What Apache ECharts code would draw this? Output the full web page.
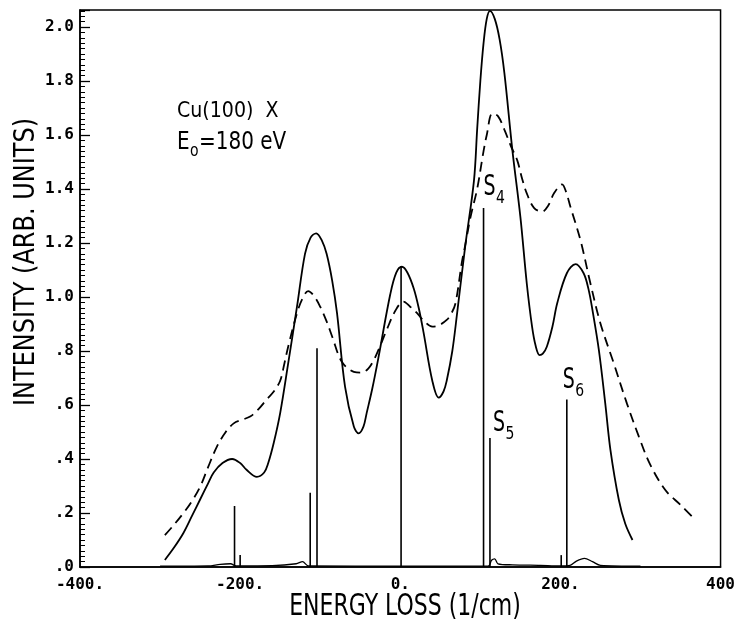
<!DOCTYPE html>
<html><head><meta charset="utf-8">
<script src="https://cdn.jsdelivr.net/npm/echarts@6/dist/echarts.min.js"></script>
<style>html,body{margin:0;padding:0;background:#fff}#c{width:738px;height:623px}</style>
</head><body><div id="c"></div>
<script>
// Solid curve (calculated spectrum)
const solidE = [-294,-283,-271,-260,-250,-240,-233,-222,-210,-200,-192,-179,-170,-165,-158,-150,-140,-129,-119,-112,-105,-98,-92,-85,-79,-69,-58,-52,-46,-42,-35,-27,-12.5,-5,2,9,17,23,29,40,48,54,58,65,71,81,92,96,100,104,108,112,118,124,130,140,150,158,164.6,169,174,178,183,190,196,208,219,229,235,240,248,256,262.5,273,281,290];
const solidY = [0.026,0.07,0.125,0.19,0.25,0.31,0.35,0.385,0.40,0.385,0.36,0.334,0.35,0.384,0.46,0.57,0.754,0.964,1.16,1.22,1.236,1.21,1.16,1.06,0.94,0.668,0.52,0.495,0.52,0.57,0.66,0.78,1.01,1.09,1.112,1.09,1.03,0.96,0.87,0.69,0.627,0.65,0.69,0.80,0.94,1.186,1.43,1.62,1.80,1.94,2.03,2.06,2.03,1.955,1.83,1.544,1.297,1.05,0.89,0.82,0.785,0.79,0.816,0.89,0.977,1.088,1.122,1.088,1.03,0.952,0.804,0.606,0.433,0.248,0.16,0.10];
// Dashed curve (measured spectrum)
const dashE = [-294,-283,-271,-260,-250,-240,-229,-218,-208,-198,-187.5,-177,-167,-158,-150,-145,-140,-129,-122,-115,-108,-100,-92,-85,-73,-58,-48,-40,-33,-25,-17,-6,4,12,21,30,40,48,58,64,69,77,81,88,96,104,108,115,122,130,138,146,152,158,167,177,185,192,202,207,212.5,225,237.5,250,266.7,283,298,312,331,350,365];
const dashY = [0.118,0.155,0.199,0.245,0.297,0.37,0.446,0.50,0.532,0.545,0.557,0.585,0.62,0.65,0.69,0.75,0.816,0.94,0.995,1.022,1.005,0.964,0.91,0.853,0.76,0.723,0.72,0.735,0.767,0.82,0.878,0.95,0.983,0.965,0.94,0.91,0.89,0.895,0.915,0.94,0.977,1.13,1.19,1.30,1.40,1.54,1.60,1.68,1.67,1.62,1.56,1.507,1.44,1.384,1.33,1.316,1.34,1.384,1.417,1.39,1.334,1.211,1.05,0.902,0.754,0.606,0.483,0.38,0.285,0.23,0.185];
// Small baseline contribution
const baseE = [-300,-240,-225,-212,-205,-160,-130,-122,-115,0,110,114,118,122,140,175,200,212,220,230,240,250,300];
const baseY = [0.003,0.004,0.01,0.012,0.004,0.005,0.012,0.02,0.004,0.003,0.004,0.025,0.03,0.012,0.008,0.006,0.004,0.006,0.022,0.032,0.02,0.006,0.003];
// Stick spectrum
const stickE = [-207,-200,-112.5,-104,1,104,112,201,208];
const stickY = [0.226,0.044,0.275,0.81,1.115,1.33,0.478,0.044,0.62];
const stickNames = ['','','','','','4','5','','6'];
// Axis ticks
const xTicks = [-400,-200,0,200,400];
const yTicks = [0,0.2,0.4,0.6,0.8,1.0,1.2,1.4,1.6,1.8,2.0];

const pairs = (xs, ys) => xs.map((x, i) => [x, ys[i]]);
const chart = echarts.init(document.getElementById('c'));
const tickFont = {fontFamily:'"DejaVu Sans Mono", monospace', fontWeight:'bold', fontSize:16, color:'#000'};

const option = {
  animation: false,
  backgroundColor: '#fff',
  grid: {left: 80, right: 17, top: 10, bottom: 56, show: true, borderColor: '#000', borderWidth: 1.5, backgroundColor: 'transparent'},
  xAxis: {
    type: 'value', min: xTicks[0], max: xTicks[xTicks.length-1], interval: 200,
    axisLine: {onZero: false, lineStyle: {color: '#000', width: 1.5}},
    axisTick: {show: false}, splitLine: {show: false},
    axisLabel: Object.assign({margin: 10, formatter: v => (v === 400 ? '400' : v + '.')}, tickFont)
  },
  yAxis: {
    type: 'value', min: 0, max: 2.063, interval: 0.2,
    axisLine: {show: true, onZero: false, lineStyle: {color: '#000', width: 1.5}},
    axisTick: {show: true, inside: true, length: 10, lineStyle: {color: '#000', width: 1.3}},
    minorTick: {show: true, splitNumber: 10, length: 5, lineStyle: {color: '#000', width: 1}},
    splitLine: {show: false},
    axisLabel: Object.assign({margin: 6, showMaxLabel: false, formatter: v => {
      if (Math.abs(v*5 - Math.round(v*5)) > 1e-6) return '';
      return v < 0.999 ? '.' + Math.round(v*10) : v.toFixed(1);
    }}, tickFont)
  },
  series: [
    {type: 'line', data: pairs(solidE, solidY), showSymbol: false, smooth: 0.35,
     lineStyle: {color: '#000', width: 1.8}},
    {type: 'line', data: pairs(dashE, dashY), showSymbol: false, smooth: 0.35,
     lineStyle: {color: '#000', width: 1.8, type: [10, 6]}},
    {type: 'line', data: pairs(baseE, baseY), showSymbol: false, smooth: 0.3,
     lineStyle: {color: '#000', width: 1.3}},
    {type: 'custom', data: pairs(stickE, stickY),
     renderItem: (params, api) => {
       const p0 = api.coord([api.value(0), 0]);
       const p1 = api.coord([api.value(0), api.value(1)]);
       return {type: 'line', shape: {x1: p0[0], y1: p0[1], x2: p1[0], y2: p1[1]},
               style: {stroke: '#000', lineWidth: 1.6}};
     }}
  ]
};
chart.setOption(option);

const font = (s) => s + 'px "DejaVu Sans", sans-serif';
const txt = (text, x, y, size, opts) => Object.assign({
  type: 'text', x: x, y: y, scaleY: 1.3,
  style: Object.assign({text: text, font: font(size), fill: '#000', align: 'left', verticalAlign: 'middle'}, (opts && opts.style) || {})
}, (opts && opts.el) || {});

const g = [];
g.push(txt('INTENSITY (ARB. UNITS)', 27, 262, 24, {el: {rotation: Math.PI/2, scaleY: 1.2}, style: {align: 'center'}}));
g.push(txt('ENERGY LOSS (1/cm)', 405, 607, 22, {el: {scaleY: 1.35}, style: {align: 'center'}}));
g.push(txt('Cu(100)  X', 177, 112, 19, {el: {scaleY: 1.1}}));
g.push(txt('E', 177, 142, 20, {el: {scaleY: 1.25}}));
g.push(txt('o', 190, 152, 14, {el: {scaleY: 1.2}}));
g.push(txt('=180 eV', 199, 142, 20, {el: {scaleY: 1.25}}));

const offs = {'4': [0, -2], '5': [3, 4], '6': [-4, -1]};
stickNames.forEach((n, i) => {
  if (!n) return;
  const p = chart.convertToPixel({gridIndex: 0}, [stickE[i], stickY[i]]);
  const o = offs[n];
  const x = p[0] + o[0], y = p[1] + o[1];
  g.push({type: 'text', x: x, y: y - 4, scaleY: 1.45,
    style: {text: 'S', font: font(19), fill: '#000', align: 'left', verticalAlign: 'bottom'}});
  g.push({type: 'text', x: x + 12.5, y: y + 1, scaleY: 1.2,
    style: {text: n, font: font(14), fill: '#000', align: 'left', verticalAlign: 'bottom'}});
});
chart.setOption({graphic: g});
</script>
</body></html>
